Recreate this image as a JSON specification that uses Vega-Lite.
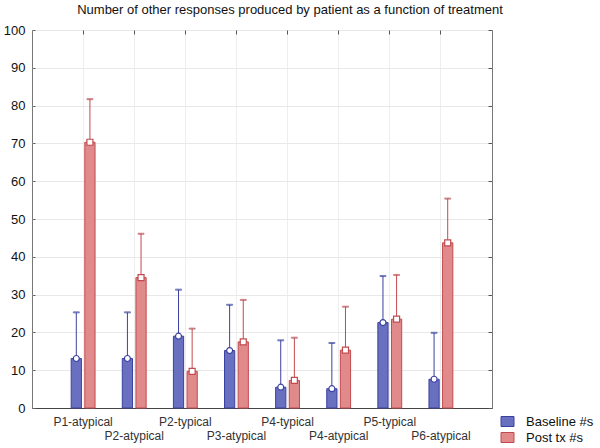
{
  "$schema": "https://vega.github.io/schema/vega-lite/v6.json",
  "autosize": "none",
  "width": 460,
  "height": 378,
  "padding": {"left": 32, "top": 30, "right": 108, "bottom": 40},
  "background": "white",
  "title": {
    "text": "Number of other responses produced by patient as a function of treatment",
    "font": "Liberation Sans",
    "fontSize": 13,
    "fontWeight": "normal",
    "color": "#111111",
    "anchor": "middle",
    "dx": 28,
    "offset": 7
  },
  "config": {
    "view": {"stroke": "#777777", "strokeWidth": 1},
    "axis": {"labelFont": "Liberation Sans", "titleFont": "Liberation Sans"},
    "legend": {"labelFont": "Liberation Sans"}
  },
  "data": {
    "values": [
      {"patient": "P1-atypical", "series": "Baseline #s", "mean": 13.1, "hi": 25.3},
      {"patient": "P1-atypical", "series": "Post tx #s", "mean": 70.3, "hi": 81.7},
      {"patient": "P2-atypical", "series": "Baseline #s", "mean": 13.1, "hi": 25.3},
      {"patient": "P2-atypical", "series": "Post tx #s", "mean": 34.5, "hi": 46.1},
      {"patient": "P2-typical", "series": "Baseline #s", "mean": 19.0, "hi": 31.3},
      {"patient": "P2-typical", "series": "Post tx #s", "mean": 9.7, "hi": 21.0},
      {"patient": "P3-atypical", "series": "Baseline #s", "mean": 15.2, "hi": 27.3},
      {"patient": "P3-atypical", "series": "Post tx #s", "mean": 17.5, "hi": 28.6},
      {"patient": "P4-typical", "series": "Baseline #s", "mean": 5.5, "hi": 17.9},
      {"patient": "P4-typical", "series": "Post tx #s", "mean": 7.3, "hi": 18.6},
      {"patient": "P4-atypical", "series": "Baseline #s", "mean": 5.1, "hi": 17.2},
      {"patient": "P4-atypical", "series": "Post tx #s", "mean": 15.3, "hi": 26.8},
      {"patient": "P5-typical", "series": "Baseline #s", "mean": 22.6, "hi": 34.9},
      {"patient": "P5-typical", "series": "Post tx #s", "mean": 23.5, "hi": 35.2},
      {"patient": "P6-atypical", "series": "Baseline #s", "mean": 7.6, "hi": 19.9},
      {"patient": "P6-atypical", "series": "Post tx #s", "mean": 43.7, "hi": 55.4}
    ]
  },
  "encoding": {
    "x": {
      "field": "patient",
      "type": "nominal",
      "sort": null,
      "axis": null,
      "scale": {"paddingInner": 0, "paddingOuter": 0.5}
    },
    "xOffset": {
      "field": "series",
      "type": "nominal",
      "scale": {"paddingInner": 0.25, "paddingOuter": 2.3}
    }
  },
  "layer": [
    {
      "mark": {"type": "bar", "strokeWidth": 1},
      "encoding": {
        "x": {
          "field": "patient", "type": "nominal", "sort": null,
          "axis": {
            "orient": "bottom", "title": null, "domain": true, "domainColor": "#444444",
            "ticks": false, "grid": true, "gridColor": "#eeeeee", "labelAngle": 0,
            "labelFontSize": 12, "labelColor": "#333333", "labelPadding": 8, "labelBaseline": "top",
            "labelLineHeight": 14,
            "labelExpr": "indexof(['P2-atypical','P3-atypical','P4-atypical','P6-atypical'], datum.value) >= 0 ? ['', datum.value] : datum.value"
          }
        },
        "y": {
          "field": "mean", "type": "quantitative",
          "scale": {"domain": [0, 100], "nice": false},
          "axis": {
            "orient": "left", "title": null, "values": [0,10,20,30,40,50,60,70,80,90,100],
            "grid": true, "gridColor": "#e8e8e8", "domain": false,
            "tickSize": -3, "tickColor": "#666666", "labelPadding": 10,
            "labelFontSize": 13, "labelColor": "#111111"
          }
        },
        "fill": {
          "field": "series", "type": "nominal",
          "scale": {"domain": ["Baseline #s", "Post tx #s"], "range": ["#6a70c0", "#e08a8c"]},
          "legend": {
            "orient": "none", "legendX": 469, "legendY": 385, "title": null,
            "symbolType": "M-1.3,-1H1.3V1H-1.3Z", "symbolSize": 100, "labelFontSize": 13,
            "labelColor": "#111111", "rowPadding": 1, "symbolStrokeWidth": 1, "labelOffset": 12
          }
        },
        "stroke": {
          "field": "series", "type": "nominal",
          "scale": {"domain": ["Baseline #s", "Post tx #s"], "range": ["#3a40a0", "#c24a4e"]},
          "legend": null
        }
      }
    },
    {
      "mark": {"type": "rule", "strokeWidth": 1},
      "encoding": {
        "y": {"field": "mean", "type": "quantitative", "axis": null},
        "y2": {"field": "hi"},
        "stroke": {"field": "series", "type": "nominal", "legend": null}
      }
    },
    {
      "mark": {"type": "tick", "size": 6, "thickness": 1},
      "encoding": {
        "x": {
          "field": "patient", "type": "nominal", "sort": null,
          "axis": {"orient": "top", "title": null, "labels": false, "domain": false, "grid": false, "tickSize": -4, "tickColor": "#555555"}
        },
        "y": {
          "field": "hi", "type": "quantitative",
          "axis": {"orient": "right", "title": null, "labels": false, "domain": false, "grid": false,
            "values": [0,10,20,30,40,50,60,70,80,90,100], "tickSize": -4, "tickColor": "#555555"}
        },
        "stroke": {"field": "series", "type": "nominal", "legend": null}
      }
    },
    {
      "transform": [{"filter": "datum.series === 'Baseline #s'"}],
      "mark": {"type": "point", "shape": "circle", "filled": false, "fill": "white", "fillOpacity": 1, "strokeWidth": 1.2, "size": 36},
      "encoding": {
        "y": {"field": "mean", "type": "quantitative", "axis": null},
        "stroke": {"field": "series", "type": "nominal", "legend": null}
      }
    },
    {
      "transform": [{"filter": "datum.series === 'Post tx #s'"}],
      "mark": {"type": "point", "shape": "square", "filled": false, "fill": "white", "fillOpacity": 1, "strokeWidth": 1.2, "size": 36},
      "encoding": {
        "y": {"field": "mean", "type": "quantitative", "axis": null},
        "stroke": {"field": "series", "type": "nominal", "legend": null}
      }
    }
  ],
  "resolve": {"axis": {"x": "independent", "y": "independent"}}
}
